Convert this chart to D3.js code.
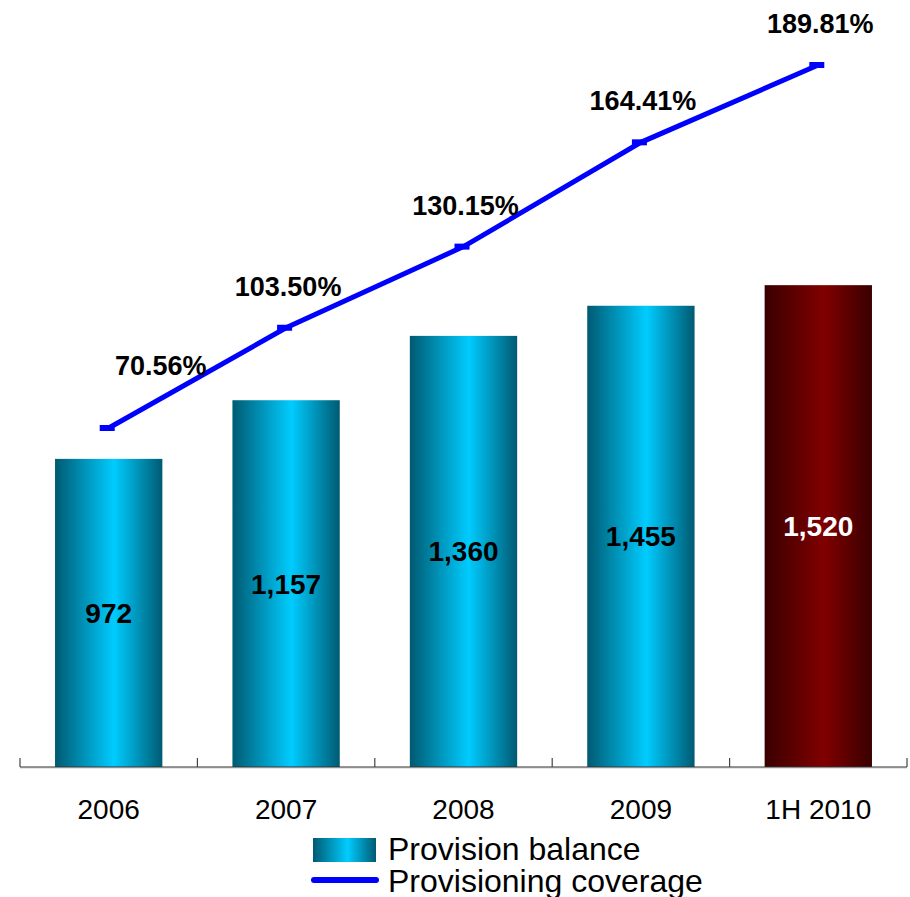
<!DOCTYPE html>
<html>
<head>
<meta charset="utf-8">
<script src="https://cdn.jsdelivr.net/npm/d3@7"></script>
<style>
body { margin: 0; background: #fff; }
svg { font-family: "Liberation Sans", Arial, sans-serif; display: block; }
</style>
</head>
<body>
<div id="chart"></div>
<script>
let width = 910, height = 897;
let margin = ({top: 34, right: 3, bottom: 130, left: 20});

let years = ["2006", "2007", "2008", "2009", "1H 2010"];
let balance = [972, 1157, 1360, 1455, 1520];
let coverage = [70.56, 103.50, 130.15, 164.41, 189.81];

let baseY = 767;

let x = d3.scaleBand()
    .domain(years)
    .range([margin.left, width - margin.right])
    .paddingInner(0.395)
    .paddingOuter(0.1975);

let y = d3.scaleLinear()
    .domain([0, 2000])
    .range([baseY, baseY - 634]);

let y2 = d3.scaleLinear()
    .domain([0, 200])
    .range([642.8, 34]);

let svg = d3.select("#chart")
    .append("svg")
    .attr("width", width)
    .attr("height", height);

let defs = svg.append("defs");
function grad(id, edge, mid) {
    let g = defs.append("linearGradient").attr("id", id)
        .attr("x1", "0%").attr("x2", "100%").attr("y1", "0%").attr("y2", "0%");
    g.append("stop").attr("offset", "0%").attr("stop-color", edge);
    g.append("stop").attr("offset", "55%").attr("stop-color", mid);
    g.append("stop").attr("offset", "100%").attr("stop-color", edge);
}
grad("blueGrad", "#005a72", "#00ccff");
grad("redGrad", "#3a0000", "#800000");

// bars
svg.append("g")
    .selectAll("rect")
    .data(years)
    .join("rect")
    .attr("x", d => x(d))
    .attr("width", x.bandwidth())
    .attr("y", (d, i) => y(balance[i]))
    .attr("height", (d, i) => baseY - y(balance[i]))
    .attr("fill", (d, i) => i == years.length - 1 ? "url(#redGrad)" : "url(#blueGrad)");

// x axis
let axis = svg.append("g");
axis.append("line")
    .attr("x1", margin.left).attr("x2", width - margin.right)
    .attr("y1", baseY + 1).attr("y2", baseY + 1)
    .attr("stroke", "#ccc").attr("stroke-width", 1);
axis.append("line")
    .attr("x1", margin.left).attr("x2", width - margin.right)
    .attr("y1", baseY).attr("y2", baseY)
    .attr("stroke", "#333").attr("stroke-width", 1.2);
axis.selectAll(".tick")
    .data(d3.range(years.length + 1))
    .join("line")
    .attr("x1", i => margin.left + i * (width - margin.left - margin.right) / years.length)
    .attr("x2", i => margin.left + i * (width - margin.left - margin.right) / years.length)
    .attr("y1", baseY - 9).attr("y2", baseY)
    .attr("stroke", "#444").attr("stroke-width", 1.2);

axis.selectAll("text")
    .data(years)
    .join("text")
    .attr("x", d => x(d) + x.bandwidth() / 2)
    .attr("y", 819)
    .attr("text-anchor", "middle")
    .attr("font-size", 28)
    .text(d => d);

// bar labels
svg.append("g")
    .selectAll("text")
    .data(years)
    .join("text")
    .attr("x", d => x(d) + x.bandwidth() / 2)
    .attr("y", (d, i) => (y(balance[i]) + baseY) / 2 + 10)
    .attr("text-anchor", "middle")
    .attr("font-size", 28)
    .attr("font-weight", "bold")
    .attr("fill", (d, i) => i == years.length - 1 ? "#fff" : "#000")
    .text((d, i) => d3.format(",")(balance[i]));

// coverage line
let line = d3.line()
    .x((d, i) => x(years[i]) + x.bandwidth() / 2)
    .y(d => y2(d));

svg.append("path")
    .datum(coverage)
    .attr("d", line)
    .attr("fill", "none")
    .attr("stroke", "#0000ff")
    .attr("stroke-width", 5);

svg.append("g")
    .selectAll("line")
    .data(coverage)
    .join("line")
    .attr("x1", (d, i) => x(years[i]) + x.bandwidth() / 2 - 9)
    .attr("x2", (d, i) => x(years[i]) + x.bandwidth() / 2 + 6)
    .attr("y1", d => y2(d))
    .attr("y2", d => y2(d))
    .attr("stroke", "#0000ff")
    .attr("stroke-width", 6);

svg.append("g")
    .selectAll("text")
    .data(coverage)
    .join("text")
    .attr("x", (d, i) => x(years[i]) + x.bandwidth() / 2 + (i == 0 ? 52 : 2))
    .attr("y", (d, i) => y2(d) - (i == 0 ? 53 : 32))
    .attr("text-anchor", "middle")
    .attr("font-size", 27)
    .attr("font-weight", "bold")
    .text(d => d.toFixed(2) + "%");

// legend
let legend = svg.append("g");
legend.append("rect")
    .attr("x", 313).attr("y", 838).attr("width", 63).attr("height", 24)
    .attr("fill", "url(#blueGrad)");
legend.append("text")
    .attr("x", 388).attr("y", 860)
    .attr("font-size", 32)
    .text("Provision balance");
legend.append("line")
    .attr("x1", 314).attr("x2", 376).attr("y1", 880).attr("y2", 880)
    .attr("stroke", "#0000ff").attr("stroke-width", 6).attr("stroke-linecap", "round");
legend.append("text")
    .attr("x", 388).attr("y", 892)
    .attr("font-size", 32)
    .text("Provisioning coverage");
</script>
</body>
</html>
